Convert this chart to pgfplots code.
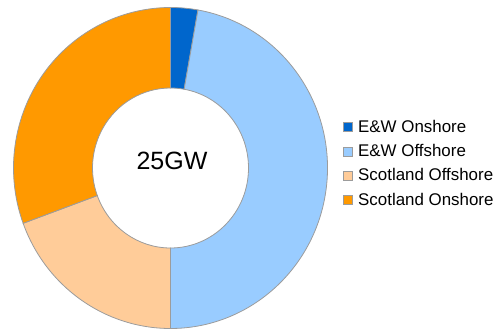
\documentclass[border=0pt]{standalone}
\usepackage{pgfplots}
\pgfplotsset{compat=1.18}
\usepackage{pgfplotstable}
\usepackage{fontspec}
\setmainfont{Liberation Sans}

\definecolor{ewon}{HTML}{0066CC}
\definecolor{ewoff}{HTML}{99CCFF}
\definecolor{scoff}{HTML}{FFCC99}
\definecolor{scon}{HTML}{FF9900}
\definecolor{edge}{HTML}{9C9C9C}

% capacity in GW (total 25 GW)
\pgfplotstableread{
name value
EWOnshore 0.7
EWOffshore 11.8
ScotlandOffshore 4.85
ScotlandOnshore 7.65
}\capacity

\begin{document}
\begin{tikzpicture}
\pgfplotstablegetelem{0}{value}\of\capacity \let\vA\pgfplotsretval
\pgfplotstablegetelem{1}{value}\of\capacity \let\vB\pgfplotsretval
\pgfplotstablegetelem{2}{value}\of\capacity \let\vC\pgfplotsretval
\pgfplotstablegetelem{3}{value}\of\capacity \let\vD\pgfplotsretval
\pgfmathsetmacro\tot{\vA+\vB+\vC+\vD}
\pgfmathsetmacro\aA{90}
\pgfmathsetmacro\aB{90-360*\vA/\tot}
\pgfmathsetmacro\aC{90-360*(\vA+\vB)/\tot}
\pgfmathsetmacro\aD{90-360*(\vA+\vB+\vC)/\tot}
\pgfmathsetmacro\aE{90-360}
\def\Rx{157}\def\Ry{160.5}\def\rx{78}\def\ry{80}\def\cx{170.5}\def\cy{161}
\newcommand\sector[3]{%
  \fill[#1, draw=edge, line width=0.8pt]
    (axis cs:{\cx+\Rx*cos(#2)},{\cy+\Ry*sin(#2)})
    arc[start angle=#2, end angle=#3, x radius=\Rx pt, y radius=\Ry pt]
    -- (axis cs:{\cx+\rx*cos(#3)},{\cy+\ry*sin(#3)})
    arc[start angle=#3, end angle=#2, x radius=\rx pt, y radius=\ry pt] -- cycle;}
\newcommand\sqimg[1]{\addlegendimage{legend image code/.code={%
  \draw[fill=#1,draw=edge,line width=0.6pt] (0pt,-4.5pt) rectangle (9pt,4.5pt);
  \path (15pt,0pt);}}}
\begin{axis}[
  hide axis, x=1pt, y=1pt, scale only axis,
  xmin=0, xmax=493, ymin=0, ymax=329, clip=false,
  legend style={at={(axis cs:342.5,165.5)}, anchor=west, draw=none, fill=none,
    font=\fontsize{16.9}{20}\selectfont, row sep=10.5pt, inner sep=0pt,
    cells={anchor=west}, nodes={inner sep=0pt}},
]
\sector{ewon}{\aA}{\aB}
\sector{ewoff}{\aB}{\aC}
\sector{scoff}{\aC}{\aD}
\sector{scon}{\aD}{\aE}
\node[anchor=base, inner sep=0pt, font=\fontsize{25}{30}\selectfont] at (axis cs:172,159) {25GW};
\sqimg{ewon}
\sqimg{ewoff}
\sqimg{scoff}
\sqimg{scon}
\legend{E\&W Onshore, E\&W Offshore, Scotland Offshore, Scotland Onshore}
\end{axis}
\pgfresetboundingbox
\useasboundingbox (0,0) rectangle (493pt,329pt);
\end{tikzpicture}
\end{document}
